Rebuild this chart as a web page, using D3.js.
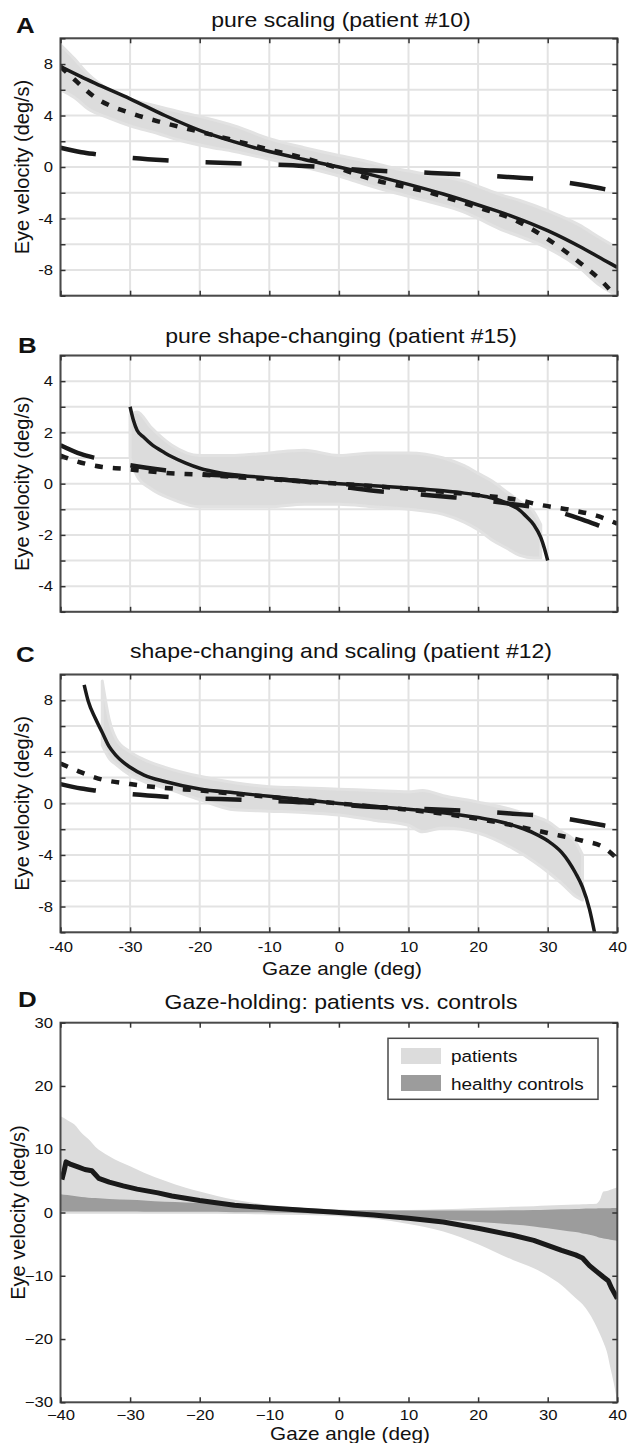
<!DOCTYPE html>
<html>
<head>
<meta charset="utf-8">
<script src="https://cdn.jsdelivr.net/npm/d3@7"></script>
<style>
  body { margin: 0; background: #fff; }
  text { font-family: "Liberation Sans", Arial, Helvetica, sans-serif; fill: #111; }
</style>
</head>
<body>
<div id="fig"></div>
<script>
// gaze angle (deg) -> eye velocity (deg/s)

// long-dashed fit, same in A, B and C
var ctrlAngle = [-40, -37, -35, -30, -25, -20, -15, -10, -5, 0, 5, 10, 15, 20, 25, 30, 35, 38, 40];
var ctrlFit   = [1.5, 1.15, 1.0, 0.72, 0.52, 0.38, 0.3, 0.2, 0.08, -0.1, -0.28, -0.38, -0.5, -0.62, -0.8, -1.0, -1.4, -1.7, -1.9];

// A: pure scaling (patient #10)
var aSolidAngle  = [-40, -37, -35, -30, -25, -20, -15, -10, -5, 0, 5, 10, 15, 20, 25, 30, 35, 38, 40];
var aSolid       = [7.8, 7.0, 6.5, 5.3, 4.0, 2.85, 1.95, 1.2, 0.58, 0, -0.65, -1.35, -2.1, -2.95, -3.85, -4.95, -6.3, -7.2, -7.8];
var aDotAngle    = [-40, -38, -37, -35, -33, -30, -26, -22, -16, -10, -5, 0, 5, 10, 13, 15, 20, 25, 30, 35, 38, 40];
var aDot         = [7.8, 6.8, 6.3, 5.4, 4.8, 4.2, 3.55, 3.0, 2.2, 1.35, 0.7, -0.1, -1.0, -1.6, -1.97, -2.3, -3.15, -4.05, -5.6, -7.6, -9.0, -10.2];
var aCloudAngle  = [-40, -38, -36, -33, -30, -26, -23, -19, -15, -10, -5, 0, 3.5, 8, 13, 18, 20, 23.5, 26, 30, 34.5, 37.5, 40];
var aCloudHi     = [9.5, 8.4, 7.2, 6.0, 5.3, 4.7, 4.3, 3.8, 3.2, 2.2, 1.5, 0.9, 0.5, -0.1, -0.6, -1.1, -1.5, -2.2, -2.6, -3.4, -4.5, -5.5, -6.3];
var aCloudLo     = [6.0, 5.4, 4.5, 3.8, 3.2, 2.6, 2.1, 1.6, 1.2, 0.6, 0.0, -0.7, -1.3, -2.0, -2.7, -3.5, -4.0, -4.9, -5.4, -6.3, -7.8, -9.2, -10];

// B: pure shape-changing (patient #15)
var bSolidAngle  = [-30, -29.5, -29, -28, -27, -25, -24, -22, -20, -17, -14, -10, -5, 0, 5, 10, 15, 18, 20, 22, 24, 26, 27, 28, 29, 29.5, 30];
var bSolid       = [3.0, 2.45, 2.08, 1.8, 1.55, 1.2, 1.05, 0.8, 0.6, 0.42, 0.32, 0.22, 0.1, 0, -0.08, -0.17, -0.28, -0.37, -0.45, -0.56, -0.75, -1.04, -1.3, -1.6, -2.1, -2.5, -3.0];
var bDotAngle    = [-40, -38, -36, -34, -31, -28, -25, -20, -15, -10, -5, 0, 5, 10, 15, 20, 22, 26, 28.4, 33.6, 37, 40];
var bDot         = [1.1, 0.9, 0.75, 0.65, 0.58, 0.5, 0.42, 0.35, 0.26, 0.18, 0.08, 0, -0.1, -0.2, -0.32, -0.45, -0.5, -0.65, -0.8, -1.04, -1.25, -1.56];
var bCloudAngle  = [-30, -29, -27, -24, -20, -15, -10, -5, 0, 5, 10, 15, 18, 20, 22, 24, 26, 28, 29];
var bCloudHi     = [2.7, 2.8, 2.2, 1.5, 1.1, 1.1, 1.2, 1.3, 1.1, 1.2, 1.2, 1.0, 0.7, 0.4, 0.1, -0.3, -0.7, -1.1, -1.6];
var bCloudLo     = [1.0, 0.3, -0.2, -0.6, -0.9, -0.9, -0.9, -0.8, -0.8, -0.9, -1.0, -1.2, -1.5, -1.8, -2.2, -2.5, -2.8, -2.9, -2.9];

// C: shape-changing and scaling (patient #12)
var cSolidAngle  = [-36.6, -36, -35, -34, -33, -32, -30, -28, -25, -20, -15, -10, -5, 0, 5, 10, 15, 20, 23, 26, 28, 30, 32, 33, 34, 35, 36, 36.8];
var cSolid       = [9.2, 7.9, 6.6, 5.5, 4.4, 3.7, 2.8, 2.2, 1.7, 1.12, 0.82, 0.55, 0.27, 0, -0.22, -0.45, -0.72, -1.1, -1.4, -1.87, -2.3, -2.9, -3.8, -4.5, -5.4, -6.5, -8.2, -10.2];
var cDotAngle    = [-40, -37, -35, -30, -25, -20, -15, -10, -5, 0, 5, 10, 15, 20, 25, 30, 35, 38, 40];
var cDot         = [3.1, 2.4, 2.0, 1.5, 1.2, 1.0, 0.75, 0.5, 0.25, 0, -0.25, -0.5, -0.8, -1.2, -1.7, -2.3, -2.9, -3.4, -4.3];
var cCloudAngle  = [-34, -33, -32, -30, -28, -25, -20, -15, -10, -5, 0, 5, 10, 12, 15, 20, 25, 28, 30, 32, 34, 35];
var cCloudHi     = [9.5, 6.5, 5.0, 4.0, 3.4, 2.8, 2.1, 1.6, 1.3, 1.2, 1.1, 1.0, 0.9, 1.0, 0.6, 0.1, -0.5, -1.0, -1.4, -2.2, -3.0, -4.0];
var cCloudLo     = [4.5, 3.5, 3.0, 2.2, 1.7, 1.2, 0.3, -0.5, -0.6, -0.7, -0.9, -1.3, -1.7, -2.2, -1.9, -2.3, -3.5, -4.5, -5.3, -6.2, -7.2, -7.5];

// D: patients vs. controls
var dBandAngle   = [-40, -39, -38, -37, -36, -35, -33, -30, -28, -25, -22, -20, -15, -10, -5, 0, 5, 10, 15, 20, 25, 28, 30, 32, 34, 35, 36, 37, 37.5, 38, 38.5, 39, 39.5, 40];
var patientsHi   = [15.2, 14.6, 13.9, 12.6, 11.6, 10.4, 8.9, 7.3, 6.3, 5.0, 3.9, 3.3, 2.0, 1.2, 0.7, 0.4, 0.35, 0.4, 0.5, 0.7, 0.9, 1.0, 1.1, 1.2, 1.25, 1.3, 1.35, 1.4, 2.0, 3.3, 3.4, 3.6, 3.8, 4.0];
var patientsLo   = [-0.2, -0.2, -0.2, -0.2, -0.2, -0.2, -0.2, -0.2, -0.2, -0.2, -0.2, -0.2, -0.25, -0.3, -0.4, -0.6, -1.0, -1.8, -3.0, -5.0, -7.5, -8.8, -10.0, -11.5, -13.5, -14.5, -16.0, -18.0, -19.2, -20.5, -22.0, -24.5, -27.0, -30.0];
var controlsHi   = [2.9, 2.75, 2.6, 2.45, 2.35, 2.3, 2.15, 2.0, 1.9, 1.7, 1.6, 1.5, 1.3, 1.0, 0.7, 0.45, 0.35, 0.3, 0.3, 0.3, 0.35, 0.4, 0.45, 0.5, 0.55, 0.6, 0.62, 0.65, 0.66, 0.67, 0.68, 0.69, 0.7, 0.7];
var controlsLo   = [0.15, 0.15, 0.15, 0.15, 0.15, 0.15, 0.15, 0.15, 0.12, 0.12, 0.1, 0.1, 0.05, 0.0, -0.1, -0.25, -0.4, -0.7, -1.1, -1.5, -1.9, -2.2, -2.5, -2.8, -3.1, -3.3, -3.5, -3.8, -4.0, -4.1, -4.2, -4.3, -4.4, -4.5];
var meanAngle    = [-39.8, -39.5, -39.2, -38.5, -37.5, -36.5, -35.5, -35, -34.5, -33, -31, -29, -26, -24, -20, -15, -10, -5, 0, 5, 10, 15, 20, 25, 28, 30, 32, 34, 35, 36, 37, 38, 38.7, 39.2, 40];
var meanVel      = [5.2, 6.5, 8.0, 7.6, 7.2, 6.8, 6.6, 6.0, 5.4, 4.8, 4.2, 3.7, 3.1, 2.6, 1.9, 1.15, 0.7, 0.35, 0, -0.4, -0.9, -1.5, -2.5, -3.6, -4.4, -5.2, -6.0, -6.7, -7.2, -8.4, -9.3, -10.2, -10.8, -12.0, -13.6];

var xTicks = [-40, -30, -20, -10, 0, 10, 20, 30, 40];

// layout
var width = 628, height = 1443;
var left = 60.5, right = 617.3;
var stretch = 1.15;   // the figure is a bit wider than tall, text too
var ink = "#1a1a1a";

var svg = d3.select("#fig").append("svg")
  .attr("width", width)
  .attr("height", height);

var x = d3.scaleLinear().domain([-40, 40]).range([left, right]);

function wideText(sel, px, py, str, size, anchor, weight) {
  return sel.append("text")
    .attr("transform", `translate(${px},${py}) scale(${stretch},1)`)
    .attr("text-anchor", anchor || "middle")
    .attr("font-size", size)
    .attr("font-weight", weight || "normal")
    .text(str);
}

function pairs(xs, ys) {
  return xs.map((a, i) => [a, ys[i]]);
}

function drawPanel(p) {
  var y = d3.scaleLinear().domain(p.yDomain).range([p.bottom, p.top]);
  var g = svg.append("g");

  g.append("clipPath").attr("id", "clip" + p.id)
    .append("rect")
    .attr("x", left).attr("y", p.top)
    .attr("width", right - left).attr("height", p.bottom - p.top);

  // grid
  if (p.grid) {
    g.append("g").selectAll("line").data(xTicks).enter().append("line")
      .attr("x1", d => x(d)).attr("x2", d => x(d))
      .attr("y1", p.top).attr("y2", p.bottom)
      .attr("stroke", "#e3e3e3").attr("stroke-width", 2);
    g.append("g").selectAll("line").data(p.yTicks).enter().append("line")
      .attr("x1", left).attr("x2", right)
      .attr("y1", d => y(d)).attr("y2", d => y(d))
      .attr("stroke", "#e3e3e3").attr("stroke-width", 2);
  }

  var plot = g.append("g").attr("clip-path", `url(#clip${p.id})`);

  // frame
  g.append("rect")
    .attr("x", left).attr("y", p.top)
    .attr("width", right - left).attr("height", p.bottom - p.top)
    .attr("fill", "none").attr("stroke", "#4a4a4a").attr("stroke-width", 2);

  // inward ticks on all four sides
  var axes = g.append("g");
  axes.append("g").attr("transform", `translate(0,${p.bottom})`)
    .call(d3.axisBottom(x).tickValues(xTicks).tickSize(-5).tickPadding(p.xPad || 9).tickFormat(p.xFmt || (() => "")));
  axes.append("g").attr("transform", `translate(0,${p.top})`)
    .call(d3.axisTop(x).tickValues(xTicks).tickSize(-5).tickFormat(""));
  axes.append("g").attr("transform", `translate(${left},0)`)
    .call(d3.axisLeft(y).tickValues(p.yTicks).tickSize(-5).tickPadding(6.5).tickFormat(p.yFmt));
  axes.append("g").attr("transform", `translate(${right},0)`)
    .call(d3.axisRight(y).tickValues(p.yTicks).tickSize(-5).tickFormat(""));
  axes.selectAll(".domain").remove();
  axes.selectAll(".tick line").attr("stroke", "#333").attr("stroke-width", 1.5);
  axes.selectAll(".tick text")
    .attr("font-size", 14.5)
    .attr("fill", "#111")
    .attr("transform", `scale(${stretch},1)`);

  // panel letter and title
  wideText(svg, p.letterX, p.letterY, p.letter, 22.5, "start", "bold");
  wideText(svg, 341, p.titleY, p.title, 20);

  // y axis title
  svg.append("text")
    .attr("transform", `translate(${p.yLabelX},${(p.top + p.bottom) / 2}) rotate(-90)`)
    .attr("text-anchor", "middle")
    .attr("dy", "0.35em")
    .attr("font-size", 20)
    .text("Eye velocity (deg/s)");

  if (p.xLabelY) {
    wideText(svg, p.xLabelX, p.xLabelY, "Gaze angle (deg)", 18);
  }

  return { plot: plot, y: y };
}

function drawFits(panel, cloud, solid, dotted) {
  var y = panel.y;
  var area = d3.area()
    .x(d => x(d[0])).y0(d => y(d[2])).y1(d => y(d[1]))
    .curve(d3.curveMonotoneX);
  var line = d3.line()
    .x(d => x(d[0])).y(d => y(d[1]))
    .curve(d3.curveMonotoneX);

  var cloudPts = cloud[0].map((a, i) => [a, cloud[1][i], cloud[2][i]]);
  panel.plot.append("path")
    .datum(cloudPts)
    .attr("d", area)
    .attr("fill", "#dcdcdc")
    .attr("stroke", "#e2e2e2")
    .attr("stroke-width", 3)
    .attr("stroke-linejoin", "round");

  panel.plot.append("path")
    .datum(pairs(ctrlAngle, ctrlFit))
    .attr("d", line)
    .attr("fill", "none").attr("stroke", ink)
    .attr("stroke-width", 4.5)
    .attr("stroke-dasharray", "36,37");

  panel.plot.append("path")
    .datum(pairs(dotted[0], dotted[1]))
    .attr("d", line)
    .attr("fill", "none").attr("stroke", ink)
    .attr("stroke-width", 4.5)
    .attr("stroke-dasharray", "8,10");

  panel.plot.append("path")
    .datum(pairs(solid[0], solid[1]))
    .attr("d", line)
    .attr("fill", "none").attr("stroke", ink)
    .attr("stroke-width", 3.5);
}

var fmt4 = d => (d % 4 === 0 ? String(d) : "");
var fmt2 = d => (d % 2 === 0 ? String(d) : "");

// ---------- A ----------
var pA = drawPanel({
  id: "A", top: 38.3, bottom: 295.7, yDomain: [-10, 10], grid: true,
  yTicks: d3.range(-10, 11, 2), yFmt: fmt4,
  letter: "A", letterX: 16, letterY: 33, title: "pure scaling (patient #10)", titleY: 27,
  yLabelX: 22
});
drawFits(pA, [aCloudAngle, aCloudHi, aCloudLo], [aSolidAngle, aSolid], [aDotAngle, aDot]);

// ---------- B ----------
var pB = drawPanel({
  id: "B", top: 355.5, bottom: 611.8, yDomain: [-5, 5], grid: true,
  yTicks: d3.range(-5, 6, 1), yFmt: fmt2,
  letter: "B", letterX: 18, letterY: 353, title: "pure shape-changing (patient #15)", titleY: 343,
  yLabelX: 22
});
drawFits(pB, [bCloudAngle, bCloudHi, bCloudLo], [bSolidAngle, bSolid], [bDotAngle, bDot]);

// ---------- C ----------
var pC = drawPanel({
  id: "C", top: 674.5, bottom: 932.3, yDomain: [-10, 10], grid: true,
  yTicks: d3.range(-10, 11, 2), yFmt: fmt4, xFmt: d => String(d),
  letter: "C", letterX: 16, letterY: 662, title: "shape-changing and scaling (patient #12)", titleY: 658,
  yLabelX: 22, xLabelX: 342, xLabelY: 975
});
drawFits(pC, [cCloudAngle, cCloudHi, cCloudLo], [cSolidAngle, cSolid], [cDotAngle, cDot]);

// ---------- D ----------
var minus = d => String(d).replace("-", "\u2212");
var pD = drawPanel({
  id: "D", top: 1022.7, bottom: 1402.3, yDomain: [-30, 30], grid: false,
  yTicks: d3.range(-30, 31, 10), yFmt: minus, xFmt: minus, xPad: 7.5,
  letter: "D", letterX: 18, letterY: 1007, title: "Gaze-holding: patients vs. controls", titleY: 1009,
  yLabelX: 18, xLabelX: 350, xLabelY: 1440
});

var bandArea = function (hi, lo) {
  return d3.area()
    .x((d, i) => x(dBandAngle[i]))
    .y0((d, i) => pD.y(lo[i]))
    .y1((d, i) => pD.y(hi[i]))
    .curve(d3.curveMonotoneX);
};

pD.plot.append("path")
  .datum(dBandAngle)
  .attr("d", bandArea(patientsHi, patientsLo))
  .attr("fill", "#dcdcdc");

pD.plot.append("path")
  .datum(dBandAngle)
  .attr("d", bandArea(controlsHi, controlsLo))
  .attr("fill", "#9c9c9c");

pD.plot.append("path")
  .datum(pairs(meanAngle, meanVel))
  .attr("d", d3.line().x(d => x(d[0])).y(d => pD.y(d[1])))
  .attr("fill", "none")
  .attr("stroke", ink)
  .attr("stroke-width", 5)
  .attr("stroke-linejoin", "round");

// legend
var legend = svg.append("g");
legend.append("rect")
  .attr("x", 388).attr("y", 1038.3)
  .attr("width", 210).attr("height", 61)
  .attr("fill", "#fff").attr("stroke", "#4a4a4a").attr("stroke-width", 1.5);

var legendItems = ["patients", "healthy controls"];
var legendColors = ["#dcdcdc", "#9c9c9c"];
legendItems.forEach(function (name, i) {
  legend.append("rect")
    .attr("x", 401).attr("y", 1048 + i * 27)
    .attr("width", 40).attr("height", 16)
    .attr("fill", legendColors[i]);
  wideText(legend, 451, 1062 + i * 27.5, name, 16.5, "start");
});
</script>
</body>
</html>
